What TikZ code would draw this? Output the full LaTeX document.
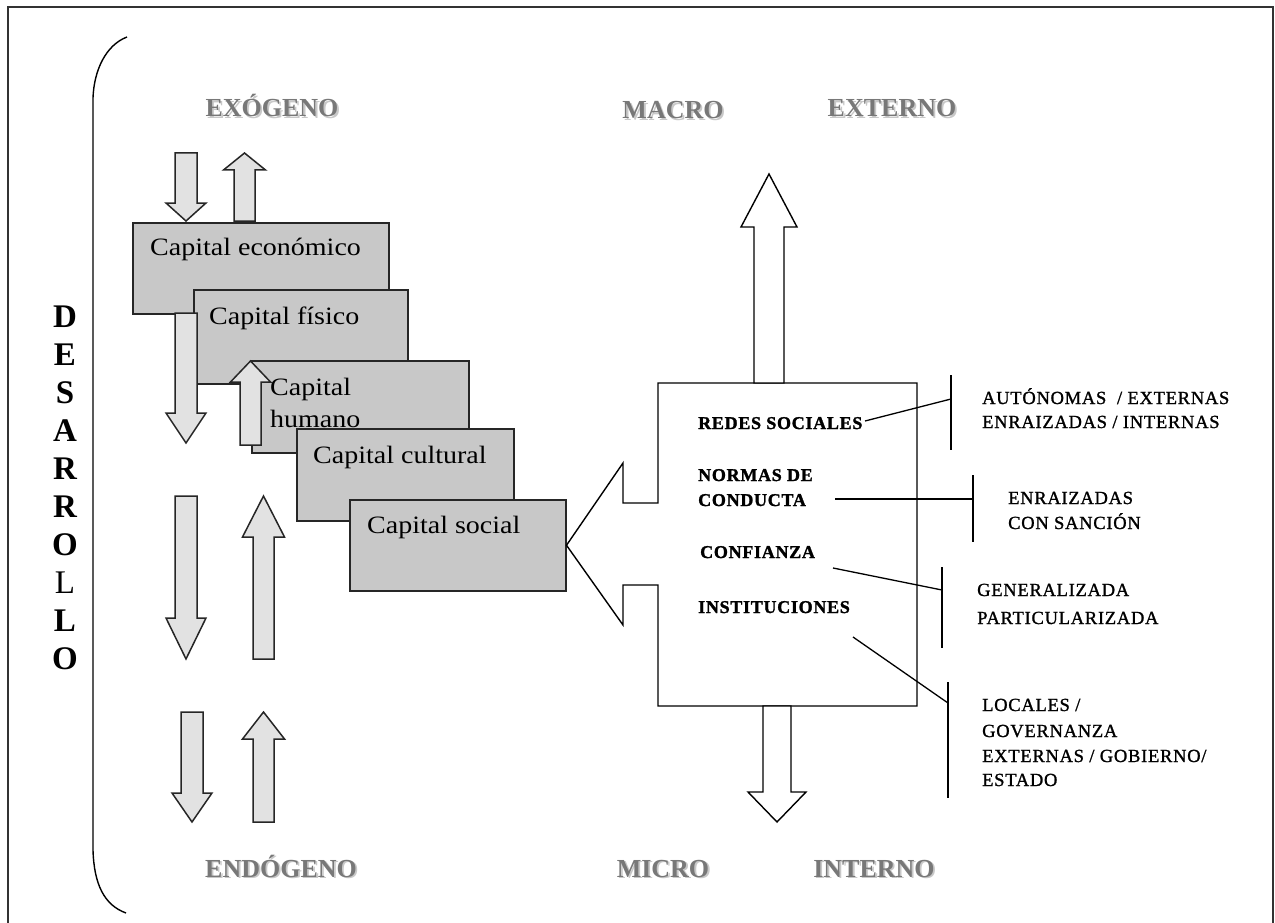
\documentclass[tikz,border=0pt]{standalone}
\usepackage{fontspec}
\setmainfont{Liberation Serif}
\newfontfamily\capfont[FakeStretch=1.12]{Liberation Serif}
\newfontfamily\keyfont[LetterSpace=4,FakeBold=1.5]{Liberation Serif Bold}
\newfontfamily\subfont[LetterSpace=4,FakeBold=1.2]{Liberation Serif}

\definecolor{boxfill}{RGB}{200,200,200}
\definecolor{arrowfill}{RGB}{226,226,226}
\definecolor{hdrgray}{RGB}{120,120,120}
\definecolor{hdrshadow}{RGB}{200,200,200}
\definecolor{framegray}{RGB}{50,50,50}

% grey heading with a soft drop shadow
\newcommand\shadowed[1]{\rlap{\kern1.8pt\raisebox{-1.8pt}{\color{hdrshadow}#1}}#1}

% vertical block arrow: [style]{x centre}{tail y}{tip y}{head base y}{shaft half width}{head half width}
\newcommand\vblock[7][]{%
  \draw[blockarrow,#1] (#2-#6,#3) -- (#2-#6,#5) -- (#2-#7,#5) -- (#2,#4)
    -- (#2+#7,#5) -- (#2+#6,#5) -- (#2+#6,#3) -- cycle;}

\tikzset{
  capbox/.style={draw=black!85, line width=1.5pt, fill=boxfill, anchor=north west, inner sep=0pt},
  captext/.style={anchor=base west, inner sep=0pt, font=\capfont\fontsize{25}{30}\selectfont},
  blockarrow/.style={draw=black!85, line width=1.5pt, fill=arrowfill, line join=miter},
  whitearrow/.style={draw=black, line width=1.4pt, fill=white, line join=miter},
  hdr/.style={anchor=base, inner sep=0pt, text=hdrgray, font=\bfseries\fontsize{26}{26}\selectfont},
  keytext/.style={anchor=base west, inner sep=0pt, font=\keyfont\fontsize{18}{20}\selectfont},
  subtext/.style={anchor=base west, inner sep=0pt, font=\subfont\fontsize{18.5}{20}\selectfont},
  vletter/.style={anchor=base, inner sep=0pt, font=\fontsize{33}{33}\selectfont},
  link/.style={draw=black, line width=1.3pt},
  tick/.style={draw=black, line width=1.6pt}
}

\begin{document}
\begin{tikzpicture}[x=1pt,y=-1pt]
\useasboundingbox (0,0) rectangle (1275,923);

% outer frame
\draw[framegray, line width=2pt] (8,926) -- (8,7) -- (1273,7) -- (1273,926);

% left bracket
\coordinate (brtop) at (127,37);
\coordinate (brbot) at (126,913);
\draw[black, line width=1.4pt] (brtop) .. controls (106,45) and (94,70) .. (93,98)
  -- (93,850) .. controls (94,884) and (104,905) .. (brbot);

% vertical word
\foreach \ch/\wt [count=\i from 0] in {D/\bfseries,E/\bfseries,S/\bfseries,A/\bfseries,R/\bfseries,R/\bfseries,O/\bfseries,L/,L/\bfseries,O/\bfseries}
  \node[vletter] (d\i) at (65,{327+\i*38.1}) {\wt\ch};

% headings
\node[hdr] (exo) at (272,117) {\shadowed{EXÓGENO}};
\node[hdr] (macro) at (673,119) {\shadowed{MACRO}};
\node[hdr] (ext) at (892,117) {\shadowed{EXTERNO}};
\node[hdr] (endo) at (281,877) {\shadowed{ENDÓGENO}};
\node[hdr] (micro) at (663,877) {\shadowed{MICRO}};
\node[hdr] (int) at (874,877) {\shadowed{INTERNO}};

% arrows above the first capital
\vblock{186}{153}{221}{203}{11}{20}
\vblock{244.5}{221}{153}{170}{10.5}{21}

% stacked capitals
\node[capbox, minimum width=256pt, minimum height=91pt] (eco) at (132,222) {};
\node[captext] (ecot) at (150,255) {Capital económico};
\node[capbox, minimum width=214pt, minimum height=94pt] (fis) at (193,289) {};
\node[captext] (fist) at (209,324) {Capital físico};
\vblock{186}{313}{443}{413}{11}{20}
\node[capbox, minimum width=217pt, minimum height=92pt] (hum) at (251,360) {};
\vblock{250.5}{445}{361}{382}{10.5}{20}
\node[captext] (humt1) at (270,395) {Capital};
\node[captext] (humt2) at (270,427) {humano};
\node[capbox, minimum width=217pt, minimum height=92pt] (cul) at (296,428) {};
\node[captext] (cult) at (313,463) {Capital cultural};
\node[capbox, minimum width=216pt, minimum height=91pt] (soc) at (349,499) {};
\node[captext] (soct) at (367,533) {Capital social};

% lower arrow pairs
\vblock{186}{496}{659}{618}{11}{20}
\vblock{263.5}{659}{496}{537}{10.5}{21}
\vblock{192}{712}{822}{793}{11}{20}
\vblock{263.5}{822}{712}{739}{10.5}{21}

% social capital box with its pointer
\draw[black, line width=1.4pt, fill=white, line join=miter]
  (658,383) -- (917,383) -- (917,706) -- (658,706) -- (658,585) -- (623,585)
  -- (623,625) -- (soc.east) -- (623,463) -- (623,503) -- (658,503) -- cycle;

% macro / micro arrows
\vblock[whitearrow]{769}{383}{174}{227}{15}{28}
\vblock[whitearrow]{777}{706}{822}{792}{14}{29}

% components
\node[keytext] (redes) at (698,429) {REDES SOCIALES};
\node[keytext] (normas1) at (698,481) {NORMAS DE};
\node[keytext] (normas2) at (698,506) {CONDUCTA};
\node[keytext] (conf) at (700,558) {CONFIANZA};
\node[keytext] (inst) at (698,613) {INSTITUCIONES};

% brackets
\coordinate (b1t) at (951,375); \coordinate (b1b) at (951,450); \coordinate (b1m) at (951,399);
\coordinate (b2t) at (973,475); \coordinate (b2b) at (973,542); \coordinate (b2m) at (973,499);
\coordinate (b3t) at (942,567); \coordinate (b3b) at (942,648); \coordinate (b3m) at (942,590);
\coordinate (b4t) at (948,682); \coordinate (b4b) at (948,798); \coordinate (b4m) at (948,703);
\draw[tick] (b1t) -- (b1b);
\draw[tick] (b2t) -- (b2b);
\draw[tick] (b3t) -- (b3b);
\draw[tick] (b4t) -- (b4b);

% links from components to their kinds
\coordinate (l1) at (865,421);
\coordinate (l2) at (835,499);
\coordinate (l3) at (833,568);
\coordinate (l4) at (853,637);
\draw[link] (l1) -- (b1m);
\draw[link] (l2) -- (b2m);
\draw[link] (l3) -- (b3m);
\draw[link] (l4) -- (b4m);

% kinds
\node[subtext] (k1a) at (982,404) {AUTÓNOMAS~ / EXTERNAS};
\node[subtext] (k1b) at (982,428) {ENRAIZADAS / INTERNAS};
\node[subtext] (k2a) at (1008,504) {ENRAIZADAS};
\node[subtext] (k2b) at (1008,529) {CON SANCIÓN};
\node[subtext] (k3a) at (977,596) {GENERALIZADA};
\node[subtext] (k3b) at (977,624) {PARTICULARIZADA};
\node[subtext] (k4a) at (982,711) {LOCALES /};
\node[subtext] (k4b) at (982,737) {GOVERNANZA};
\node[subtext] (k4c) at (982,762) {EXTERNAS / GOBIERNO/};
\node[subtext] (k4d) at (982,786) {ESTADO};
\end{tikzpicture}
\end{document}
